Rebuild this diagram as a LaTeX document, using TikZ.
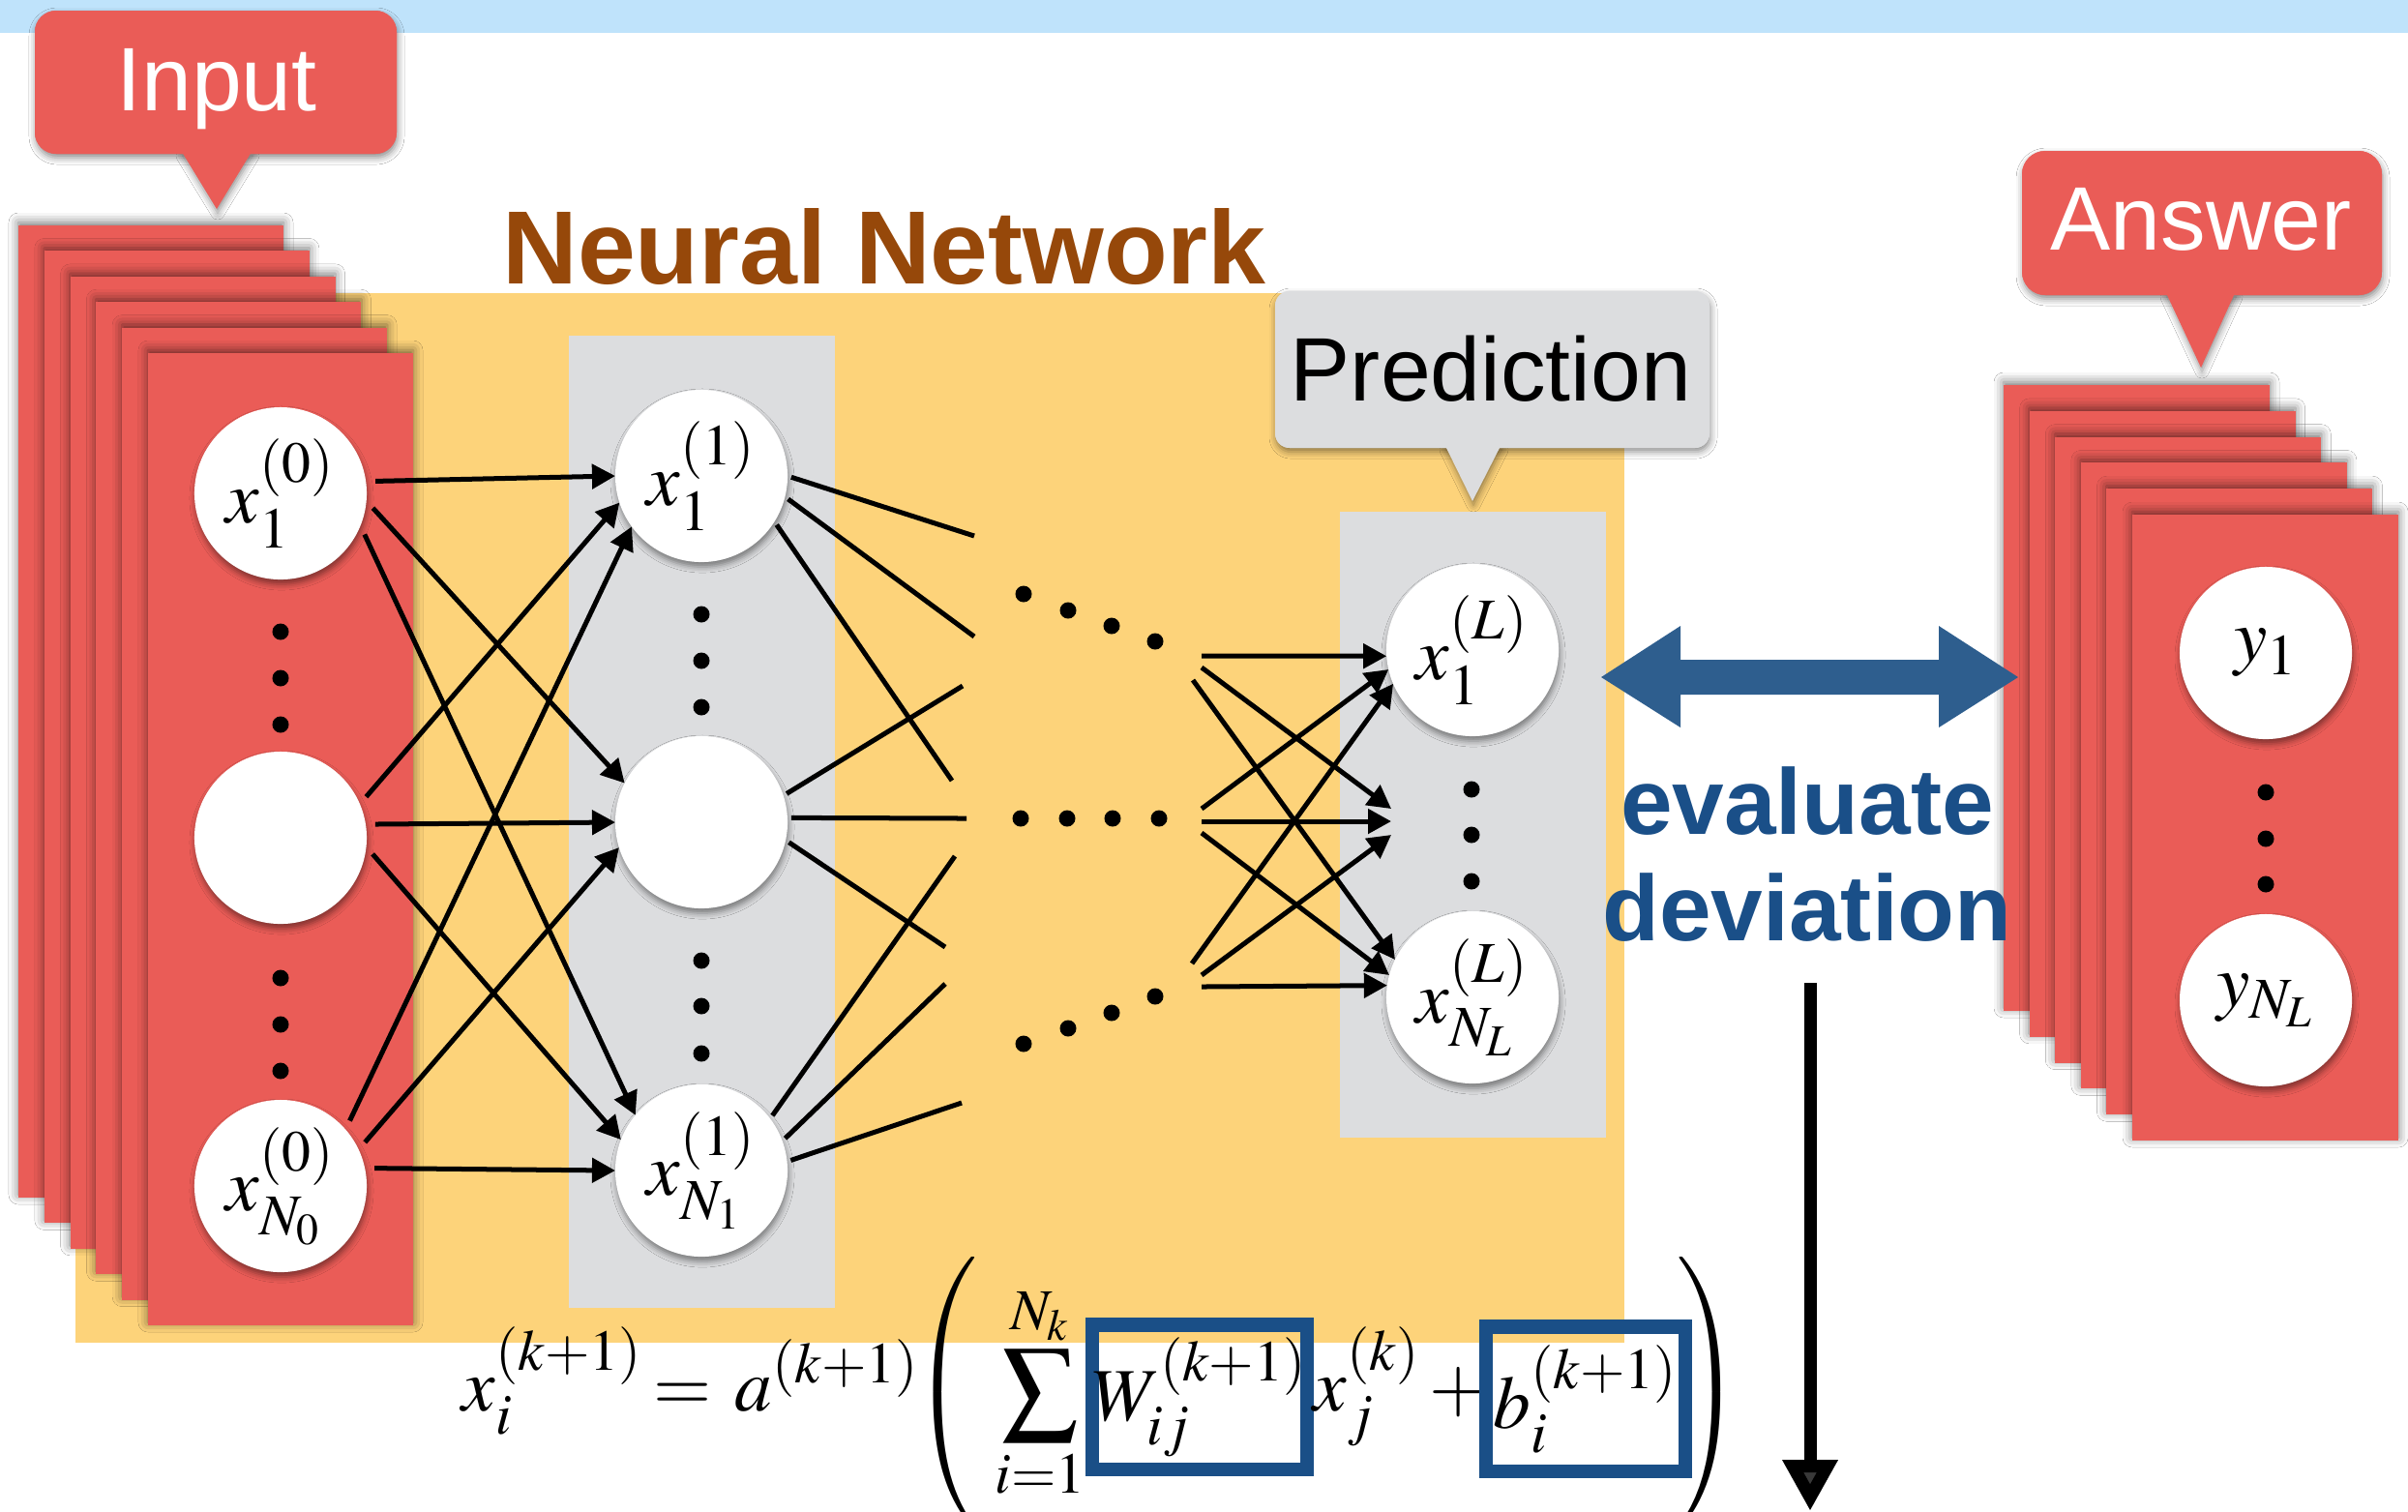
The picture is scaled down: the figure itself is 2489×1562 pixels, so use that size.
\documentclass[tikz,border=0pt]{standalone}
\usepackage[no-math]{fontspec}
\usepackage{mathptmx}
\DeclareMathSizes{22}{22}{17}{13}
\newfontfamily\sfont{Liberation Sans}
\usetikzlibrary{arrows.meta,shadows.blur}
\definecolor{bandblue}{RGB}{191,227,251}
\definecolor{redc}{RGB}{234,92,87}
\definecolor{yell}{RGB}{253,211,122}
\definecolor{grayc}{RGB}{220,221,223}
\definecolor{brownc}{RGB}{150,72,10}
\definecolor{evblue}{RGB}{26,79,136}
\definecolor{arrblue}{RGB}{46,94,142}
\definecolor{boxblue}{RGB}{26,79,135}
\begin{document}
\begin{tikzpicture}[x=0.01cm,y=-0.01cm,
  circ/.style={circle, fill=white, minimum size=1.78cm, inner sep=0pt, outer sep=0pt,
    font=\fontsize{22}{26}\selectfont,
    blur shadow={shadow xshift=0.01cm, shadow yshift=-0.05cm, shadow blur radius=0.06cm, shadow opacity=45}},
  stackshadow/.style={blur shadow={shadow xshift=0cm, shadow yshift=0.03cm, shadow blur radius=0.1cm, shadow opacity=55}},
  callshadow/.style={blur shadow={shadow xshift=0.01cm, shadow yshift=-0.04cm, shadow blur radius=0.07cm, shadow opacity=45}},
  conn/.style={line width=0.05cm, black},
  arr/.style={conn, shorten <=0.1cm, -{Triangle[length=0.24cm, width=0.25cm]}},
  arrb/.style={conn, -{Triangle[length=0.24cm, width=0.25cm]}},
  partial/.style={conn, shorten <=0.04cm},
  mathf/.style={inner sep=0pt, font=\fontsize{22}{26}\selectfont},
  calltext/.style={inner sep=0pt, anchor=base, font={\sfont\fontsize{26.5}{30}\selectfont}},
  boldtext/.style={inner sep=0pt, anchor=base, font={\sfont\bfseries\fontsize{27.4}{31}\selectfont}},
  wbox/.style={mathf, draw=boxblue, line width=0.14cm, minimum height=1.49cm},
  dot/.style={black}
]
% background and bounding box
\fill[white] (0,0) rectangle (2489,1562);
\useasboundingbox (0,0) rectangle (2489,1562);
\fill[bandblue] (0,0) rectangle (2489,34);

% yellow network region and title
\fill[yell] (78,303) rectangle (1679,1388);
\node[inner sep=0pt, anchor=base, text=brownc, font={\sfont\bfseries\fontsize{30.6}{34}\selectfont}] (title) at (914,293) {Neural Network};

% gray columns
\fill[grayc] (588,347) rectangle (863,1352);
\fill[grayc] (1385,529) rectangle (1660,1176);

% input stack
\foreach \i in {0,...,5} {
  \fill[redc, stackshadow] ({19+26.8*\i},{233+26.4*\i}) rectangle ++(274,1005);
}
% answer stack
\foreach \i in {0,...,5} {
  \fill[redc, stackshadow] ({2071+26.6*\i},{398+26.8*\i}) rectangle ++(275,647);
}

% Input callout
\fill[redc, callshadow, rounded corners=0.22cm] (36,11) rectangle (410,159);
\fill[redc, callshadow] (188,157) -- (260,157) -- (224,216) -- cycle;
\fill[redc, rounded corners=0.22cm] (36,11) rectangle (410,159);
\node[calltext, text=white] (tin) at (224,114) {Input};

% Answer callout
\fill[redc, callshadow, rounded corners=0.24cm] (2090,156) rectangle (2462,305);
\fill[redc, callshadow] (2239,303) -- (2310,303) -- (2275,380) -- cycle;
\fill[redc, rounded corners=0.24cm] (2090,156) rectangle (2462,305);
\node[calltext, text=white] (tans) at (2275,258) {Answer};

% Prediction callout
\fill[grayc, callshadow, rounded corners=0.15cm] (1318,301) rectangle (1767,463);
\fill[grayc, callshadow] (1494,461) -- (1551,461) -- (1522,518) -- cycle;
\fill[grayc, rounded corners=0.15cm] (1318,301) rectangle (1767,463);
\node[calltext, text=black] (tpred) at (1541,414) {Prediction};

% vertical dots in columns
\foreach \y in {653,701,749,1011,1059,1107} \fill[dot] (290,\y) circle (0.085cm);
\foreach \y in {635,683,731,993,1040,1089} \fill[dot] (725,\y) circle (0.085cm);
\foreach \y in {816,863,911} \fill[dot] (1521,\y) circle (0.085cm);
\foreach \y in {819,867,914} \fill[dot] (2342,\y) circle (0.085cm);

% horizontal / diagonal dots between layers
\foreach \p in {(1058,614),(1104,631),(1149,647),(1194,663),
                (1055,846),(1103,846),(1150,846),(1198,846),
                (1058,1079),(1104,1063),(1149,1047),(1194,1030)} \fill[dot] \p circle (0.085cm);

% nodes
\node[circ] (i1) at (290,510) {$x_1^{(0)}$};
\node[circ] (im) at (290,866) {};
\node[circ] (iN) at (290,1226) {$x_{N_0}^{(0)}$};
\node[circ] (h1) at (725,492) {$x_1^{(1)}$};
\node[circ] (hm) at (725,850) {};
\node[circ] (hN) at (725,1210) {$x_{N_1}^{(1)}$};
\node[circ] (o1) at (1522,672) {$x_1^{(L)}$};
\node[circ] (oN) at (1522,1031) {$x_{N_L}^{(L)}$};
\node[circ] (a1) at (2342,675) {$y_1$};
\node[circ] (aN) at (2342,1034) {$y_{N_L}$};

% input -> hidden
\draw[arr] (i1.8) -- (h1.180);
\draw[arr] (i1.-5) -- (hm.153);
\draw[arr] (i1.-22) -- (hN.140);
\draw[arr] (im.23) -- (h1.198);
\draw[arr] (im.9) -- (hm.180);
\draw[arr] (im.-6) -- (hN.159);
\draw[arr] (iN.41) -- (h1.216);
\draw[arr] (iN.25) -- (hm.197);
\draw[arr] (iN.12) -- (hN.180);

% hidden -> next layer (partial lines)
\coordinate (e11) at (1007,554);
\coordinate (e12) at (1007,658);
\coordinate (e13) at (984,807);
\coordinate (e21) at (995,709);
\coordinate (e22) at (999,846);
\coordinate (e23) at (977,979);
\coordinate (e31) at (987,885);
\coordinate (e32) at (977,1017);
\coordinate (e33) at (994,1140);
\draw[partial] (h1.0) -- (e11);
\draw[partial] (h1.-14) -- (e12);
\draw[partial] (h1.-32) -- (e13);
\draw[partial] (hm.18) -- (e21);
\draw[partial] (hm.3) -- (e22);
\draw[partial] (hm.-12) -- (e23);
\draw[partial] (hN.37) -- (e31);
\draw[partial] (hN.20) -- (e32);
\draw[partial] (hN.6) -- (e33);

% previous layer -> output
\coordinate (s11) at (1242,678);
\coordinate (s12) at (1242,690);
\coordinate (s13) at (1233,703);
\coordinate (s21) at (1242,836);
\coordinate (s22) at (1242,849);
\coordinate (s23) at (1242,861);
\coordinate (s31) at (1232,996);
\coordinate (s32) at (1242,1008);
\coordinate (s33) at (1242,1020);
\coordinate (t1) at (1438,836);
\coordinate (t2) at (1438,849);
\coordinate (t3) at (1438,863);
\draw[arrb] (s11) -- (o1.184);
\draw[arrb] (s12) -- (t1);
\draw[arrb] (s13) -- (oN.154);
\draw[arrb] (s21) -- (o1.193);
\draw[arrb] (s22) -- (t2);
\draw[arrb] (s23) -- (oN.165);
\draw[arrb] (s31) -- (o1.203);
\draw[arrb] (s32) -- (t3);
\draw[arrb] (s33) -- (oN.172);

% double arrow and evaluate deviation
\fill[arrblue] (1655,700) -- (1737,647) -- (1737,682) -- (2004,682) -- (2004,647) -- (2086,700)
  -- (2004,752) -- (2004,718) -- (1737,718) -- (1737,752) -- cycle;
\node[boldtext, text=evblue] (ev1) at (1868,862) {evaluate};
\node[boldtext, text=evblue] (ev2) at (1868,972) {deviation};
\coordinate (dtop) at (1871,1016);
\coordinate (dbot) at (1871,1562);
\draw[line width=0.13cm, -{Triangle[length=0.53cm, width=0.54cm]}] (dtop) -- (dbot);

% formula
\node[mathf, anchor=base west] (f1) at (477,1458) {$x_i^{(k+1)}$};
\node[mathf, anchor=base] (f2) at (706,1458) {$=$};
\node[mathf, anchor=base west] (f3) at (759,1458) {$a^{(k+1)}$};
\node[mathf, anchor=west] (f4) at (942,1439) {$\left(\vrule height 34pt depth 34pt width 0pt\right.$};
\node[mathf] (f5) at (1075,1440) {$\displaystyle\sum_{i=1}^{N_k}$};
\node[wbox, minimum width=2.04cm] (bw) at (1240,1444) {$W_{ij}^{(k+1)}$};
\node[mathf, anchor=base west] (f6) at (1357,1458) {$x_j^{(k)}$};
\node[mathf, anchor=base] (f7) at (1508,1458) {$+$};
\node[wbox, minimum width=2.05cm] (bb) at (1639,1446) {$b_i^{(k+1)}$};
\node[mathf, anchor=east] (f8) at (1802,1439) {$\left.\vrule height 34pt depth 34pt width 0pt\right)$};
\end{tikzpicture}
\end{document}
